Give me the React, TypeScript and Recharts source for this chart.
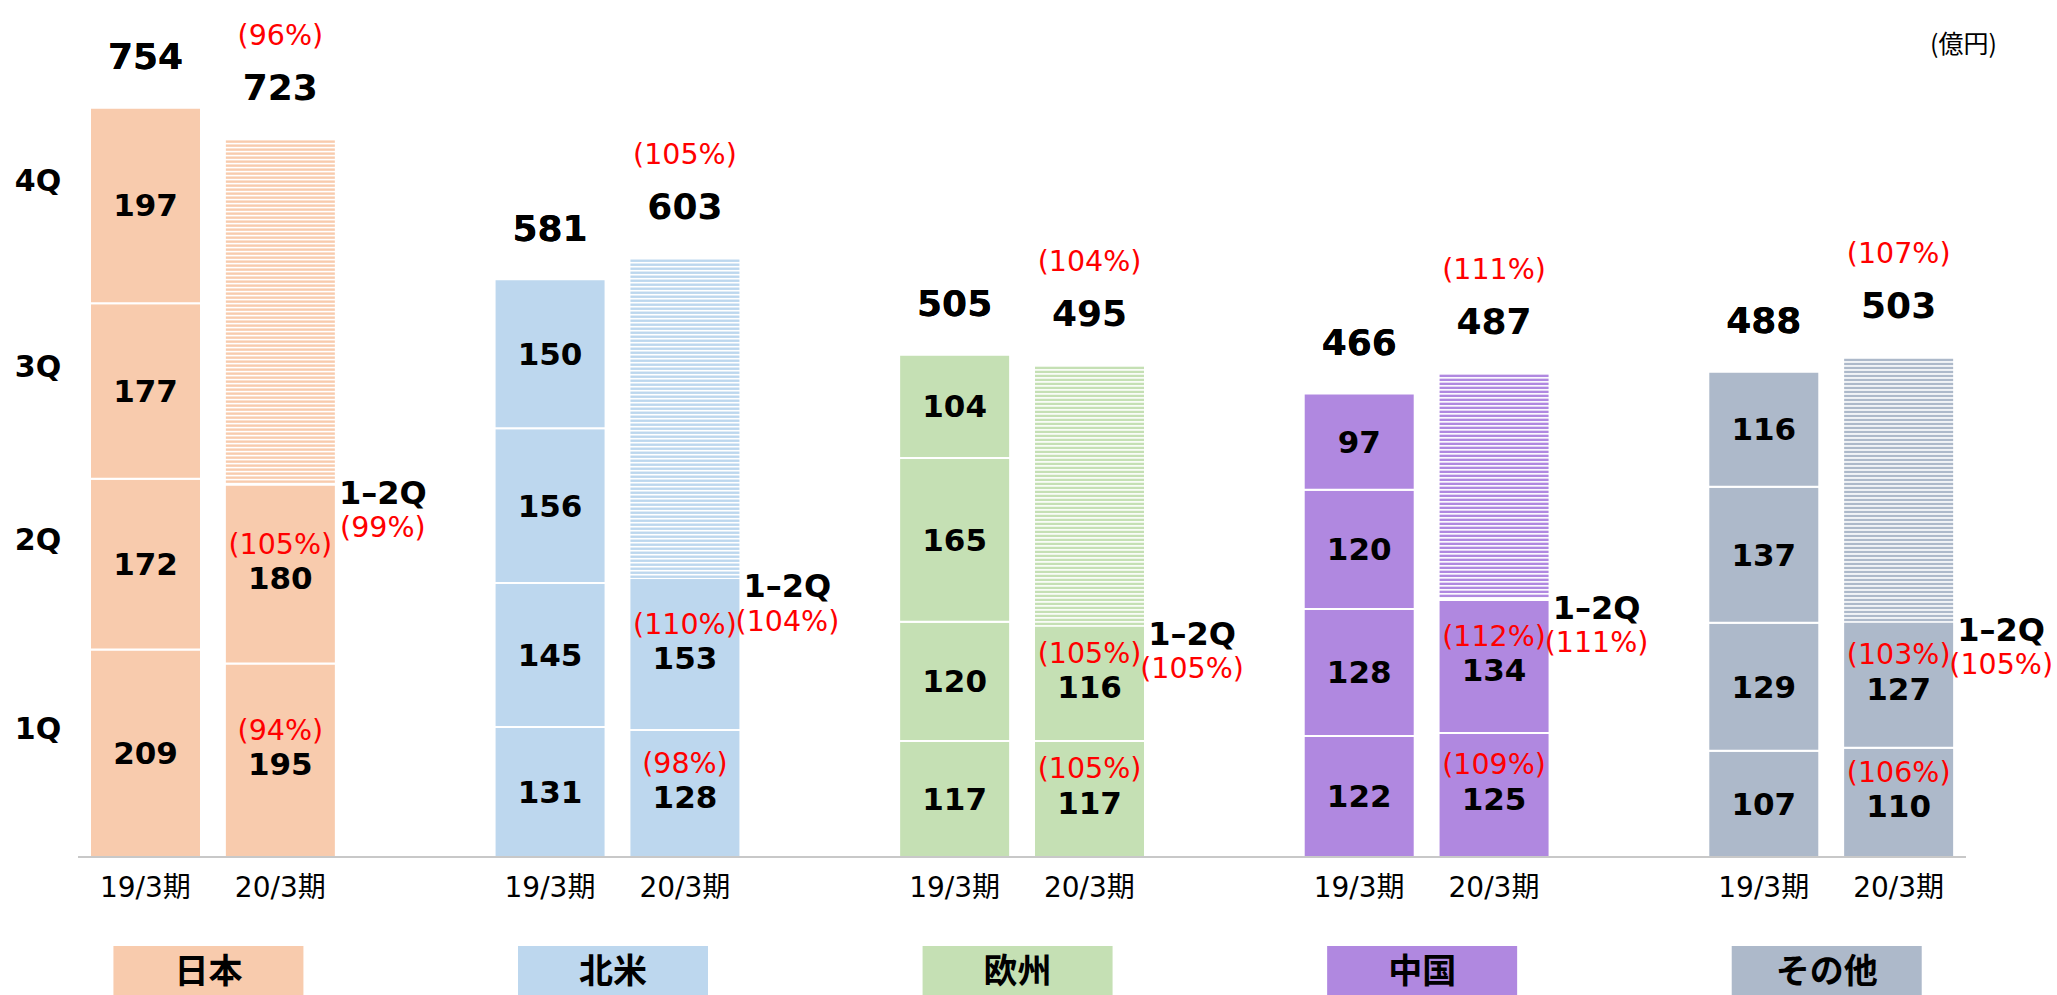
import React from 'react'
import { BarChart, Bar, XAxis, YAxis, Cell, LabelList } from 'recharts'

const regions = ['日本', '北米', '欧州', '中国', 'その他']
const periods = ['19/3期', '20/3期']
const quarterNames = ['1Q', '2Q', '3Q', '4Q']

// 19/3期 quarterly sales
const q1Prev = [209, 131, 117, 122, 107]
const q2Prev = [172, 145, 120, 128, 129]
const q3Prev = [177, 156, 165, 120, 137]
const q4Prev = [197, 150, 104, 97, 116]
const totalPrev = [754, 581, 505, 466, 488]

// 20/3期 actual 1Q/2Q and full-year plan
const q1Cur = [195, 128, 117, 125, 110]
const q2Cur = [180, 153, 116, 134, 127]
const totalCur = [723, 603, 495, 487, 503]

// year-on-year ratios
const q1Ratio = ['(94%)', '(98%)', '(105%)', '(109%)', '(106%)']
const q2Ratio = ['(105%)', '(110%)', '(105%)', '(112%)', '(103%)']
const halfRatio = ['(99%)', '(104%)', '(105%)', '(111%)', '(105%)']
const totalRatio = ['(96%)', '(105%)', '(104%)', '(111%)', '(107%)']

const COLORS = ['#F8CBAD', '#BDD7EE', '#C5E0B4', '#B088E0', '#ADB9CA']
const FONT = '"DejaVu Sans", "Noto Sans CJK JP", sans-serif'
const CJK = '"Noto Sans CJK JP", sans-serif'
const RED = '#FF0000'

type Row = {
  key: string
  ri: number
  pi: number
  q1?: number
  q2?: number
  q3?: number
  q4?: number
  h2?: number
}

const data: Row[] = []
regions.forEach((_, i) => {
  data.push({ key: `p${i}`, ri: i, pi: 0, q1: q1Prev[i], q2: q2Prev[i], q3: q3Prev[i], q4: q4Prev[i] })
  data.push({ key: `c${i}`, ri: i, pi: 1, q1: q1Cur[i], q2: q2Cur[i], h2: totalCur[i] - q1Cur[i] - q2Cur[i] })
  if (i < regions.length - 1) data.push({ key: `g${i}`, ri: i, pi: -1 })
})
const byKey: Record<string, Row> = {}
data.forEach((r) => (byKey[r.key] = r))

const rowKey = (entry: any) => entry?.payload?.key

function Hatch(props: any) {
  const { x, y, width, height, payload } = props
  if (!height || height <= 0 || !payload) return null
  const color = COLORS[payload.ri]
  const lines = []
  for (let yy = y + 1; yy < y + height - 2; yy += 4) {
    lines.push(<rect key={yy} x={x + 1} y={yy} width={width - 2} height={2.4} fill={color} />)
  }
  return <g>{lines}</g>
}

function segmentLabel(qi: number) {
  const field = (['q1', 'q2', 'q3', 'q4'] as const)[qi]
  return (props: any) => {
    const { x, y, width, height, value } = props
    const row = byKey[value]
    if (!row || row.pi < 0 || row[field] == null) return null
    const cx = x + width / 2
    const cy = y + height / 2
    const out: React.ReactNode[] = [
      <text key="v" x={cx} y={row.pi === 1 ? cy + 4 : cy} textAnchor="middle" dominantBaseline="central"
        fontFamily={FONT} fontWeight="bold" fontSize={31} fill="#000">{row[field]}</text>,
    ]
    if (row.pi === 0 && row.ri === 0) {
      out.push(
        <text key="q" x={x - 52} y={cy - 25} textAnchor="middle" dominantBaseline="central"
          fontFamily={FONT} fontWeight="bold" fontSize={30} fill="#000">{quarterNames[qi]}</text>
      )
    }
    if (row.pi === 1) {
      const ratio = qi === 0 ? q1Ratio[row.ri] : q2Ratio[row.ri]
      out.push(
        <text key="r" x={cx} y={cy - 30} textAnchor="middle" dominantBaseline="central"
          fontFamily={FONT} fontSize={28.5} fill={RED}>{ratio}</text>
      )
      if (qi === 1) {
        out.push(
          <text key="h" x={x + width + 47} y={y + 8} textAnchor="middle" dominantBaseline="central"
            fontFamily={FONT} fontWeight="bold" fontSize={32} fill="#000">1–2Q</text>,
          <text key="hr" x={x + width + 47} y={y + 43} textAnchor="middle" dominantBaseline="central"
            fontFamily={FONT} fontSize={28.5} fill={RED}>{halfRatio[row.ri]}</text>
        )
      }
    }
    return <g>{out}</g>
  }
}

function totalLabel(props: any) {
  const { x, y, width, value } = props
  const row = byKey[value]
  if (!row || row.pi < 0) return null
  const cx = x + width / 2
  if (row.pi === 0) {
    if (row.q4 == null) return null
    return (
      <text x={cx} y={y - 51} textAnchor="middle" dominantBaseline="central"
        fontFamily={FONT} fontWeight="bold" fontSize={36} fill="#000">{totalPrev[row.ri]}</text>
    )
  }
  if (row.h2 == null) return null
  return (
    <g>
      <text x={cx} y={y - 52} textAnchor="middle" dominantBaseline="central"
        fontFamily={FONT} fontWeight="bold" fontSize={36} fill="#000">{totalCur[row.ri]}</text>
      <text x={cx} y={y - 104} textAnchor="middle" dominantBaseline="central"
        fontFamily={FONT} fontSize={28.5} fill={RED}>{totalRatio[row.ri]}</text>
    </g>
  )
}

function PeriodTick(props: any) {
  const { x, y, payload } = props
  const row = byKey[payload.value]
  if (!row || row.pi < 0) return null
  return (
    <g>
      <text x={x} y={y + 22} textAnchor="middle" dominantBaseline="central"
        fontFamily={FONT} fontSize={28} fill="#000">{periods[row.pi]}</text>
      {row.pi === 0 && (
        <g>
          <rect x={x + 63 - 95} y={y + 81} width={190} height={60} fill={COLORS[row.ri]} />
          <text x={x + 63} y={y + 103} textAnchor="middle" dominantBaseline="central"
            fontFamily={CJK} fontWeight="bold" fontSize={34} fill="#000">{regions[row.ri]}</text>
        </g>
      )}
    </g>
  )
}

export default function App() {
  const cells = data.map((r) => <Cell key={r.key} fill={COLORS[r.ri]} />)
  return (
    <div style={{ position: 'absolute', left: 0, top: 0, width: 2057, height: 995, background: '#fff' }}>
      <BarChart width={2057} height={995} data={data} barSize={111}
        margin={{ top: 63, right: 91, bottom: 0, left: 78 }}>
        <XAxis dataKey="key" interval={0} height={138} tickLine={false}
          axisLine={{ stroke: '#C8C8C8', strokeWidth: 2 }} tick={<PeriodTick />} />
        <YAxis hide domain={[0, 800]} />
        <Bar dataKey="q1" stackId="s" stroke="#fff" strokeWidth={2} isAnimationActive={false}>
          {cells}
          <LabelList valueAccessor={rowKey} content={segmentLabel(0)} />
        </Bar>
        <Bar dataKey="q2" stackId="s" stroke="#fff" strokeWidth={2} isAnimationActive={false}>
          {cells}
          <LabelList valueAccessor={rowKey} content={segmentLabel(1)} />
        </Bar>
        <Bar dataKey="q3" stackId="s" stroke="#fff" strokeWidth={2} isAnimationActive={false}>
          {cells}
          <LabelList valueAccessor={rowKey} content={segmentLabel(2)} />
        </Bar>
        <Bar dataKey="q4" stackId="s" stroke="#fff" strokeWidth={2} isAnimationActive={false}>
          {cells}
          <LabelList valueAccessor={rowKey} content={segmentLabel(3)} />
          <LabelList valueAccessor={rowKey} content={totalLabel} />
        </Bar>
        <Bar dataKey="h2" stackId="s" shape={<Hatch />} isAnimationActive={false}>
          <LabelList valueAccessor={rowKey} content={totalLabel} />
        </Bar>
      </BarChart>
      <div style={{ position: 'absolute', left: 1930, top: 24, fontFamily: CJK, fontSize: 25, color: '#000' }}>
        (億円)
      </div>
    </div>
  )
}
